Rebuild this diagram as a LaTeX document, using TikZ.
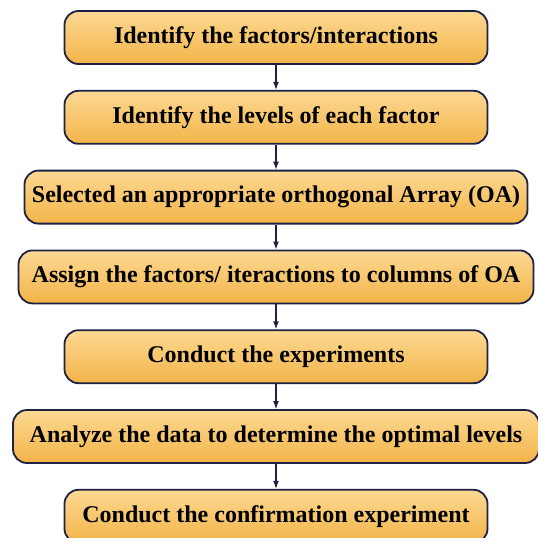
\documentclass[tikz,border=0pt]{standalone}
\usepackage{fontspec}
\setmainfont{Liberation Serif}
\usetikzlibrary{positioning,arrows.meta}

\definecolor{boxtop}{HTML}{FCD993}
\definecolor{boxbot}{HTML}{F3B448}
\definecolor{boxline}{HTML}{1E2145}

\tikzset{
  stepbox/.style={draw=boxline, line width=1.8pt, rounded corners=14pt,
    top color=boxtop, bottom color=boxbot,
    minimum width=#1, minimum height=53pt, inner xsep=0pt,
    font=\bfseries\fontsize{24}{28}\selectfont},
  flow/.style={-{Latex[length=8pt,width=6pt]}, line width=1.2pt, draw=boxline}
}

\begin{document}
\begin{tikzpicture}[node distance=25pt]
  \useasboundingbox (0,0) rectangle (538pt,-538pt);

  % the seven steps, top to bottom
  \node[stepbox=423pt] (factors) at (276pt,-37.5pt) {Identify the factors/interactions};
  \node[stepbox=423pt, below=of factors] (levels) {Identify the levels of each factor};
  \node[stepbox=503pt, below=of levels] (array) {Selected an appropriate orthogonal Array (OA)};
  \node[stepbox=515pt, below=of array] (assign) {Assign the factors/ iteractions to columns of OA};
  \node[stepbox=423pt, below=of assign] (conduct) {Conduct the experiments};
  \node[stepbox=526pt, below=of conduct] (analyze) {Analyze the data to determine the optimal levels};
  \node[stepbox=423pt, below=of analyze] (confirm) {Conduct the confirmation experiment};

  % arrows between steps
  \foreach \a/\b in {factors/levels, levels/array, array/assign,
                     assign/conduct, conduct/analyze, analyze/confirm}
    \draw[flow] (\a) -- (\b);
\end{tikzpicture}
\end{document}
